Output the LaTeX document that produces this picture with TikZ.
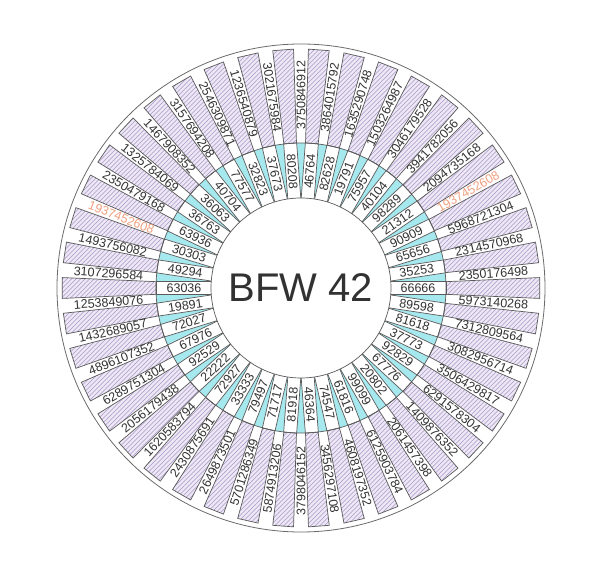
\documentclass[tikz,border=0pt]{standalone}
\usepackage{fontspec}
\setmainfont{Liberation Sans}
\usetikzlibrary{patterns}
\pgfdeclarepatternformonly{hatchne}{\pgfqpoint{-1pt}{-1pt}}{\pgfqpoint{5.5pt}{5.5pt}}{\pgfqpoint{4.5pt}{4.5pt}}{%
  \pgfsetlinewidth{0.6pt}%
  \pgfpathmoveto{\pgfqpoint{0pt}{0pt}}%
  \pgfpathlineto{\pgfqpoint{4.6pt}{4.6pt}}%
  \pgfusepath{stroke}}
\definecolor{lav}{RGB}{238,232,246}
\definecolor{hatchc}{RGB}{168,152,198}
\definecolor{cyanfill}{RGB}{165,232,238}
\definecolor{edge}{RGB}{90,90,90}
\definecolor{txt}{RGB}{50,50,50}
\definecolor{orangelab}{RGB}{240,160,128}
\tikzset{
  edgeline/.style={draw=edge, line width=0.7pt},
  hatchbox/.style={edgeline, preaction={fill=lav}, pattern=hatchne, pattern color=hatchc},
  whitebox/.style={edgeline, fill=white},
  lab/.style={inner sep=0pt, text=txt, font=\fontsize{12.5}{12.5}\selectfont},
  titletext/.style={inner sep=0pt, text=txt, font=\fontsize{40}{40}\selectfont}
}
\begin{document}
\begin{tikzpicture}[x=1pt,y=1pt]
\useasboundingbox (-301,-292) rectangle (299,288);
% outer circle
\draw[draw=edge!90, line width=0.8pt, fill=white] (0,0) circle (244);
% hatched boxes
\foreach \k in {0,...,41} {
  \pgfmathsetmacro\b{\k*360/42}
  \draw[hatchbox] ({\b-2.5}:145) -- ({\b-2.5}:239) -- ({\b+2.5}:239) -- ({\b+2.5}:145) -- cycle;
}
% cyan ring
\fill[cyanfill] (0,0) circle (145);
% white boxes of inner ring
\foreach \k in {0,...,41} {
  \pgfmathsetmacro\c{\k*360/42}
  \draw[whitebox, rotate=\c] (86,-6.5) rectangle (145,6.5);
}
\draw[edgeline, fill=white] (0,0) circle (90);
\draw[edgeline] (0,0) circle (145);
% outer labels
\foreach \lab [count=\i from 0] in {3750846912,3864015792,1635290748,1503264987,3046179528,3941782056,2094735168,1937452608,5968721304,2314570968,2350176498,5973140268,7312809564,3082956714,3506429817,6291578304,1409876352,2061457398,6125903784,4608197352,3456297108,3798046152,5874913206,5701286349,2649873501,2430875691,1620583794,2056179438,6289751304,4896107352,1432689057,1253849076,3107296584,1493756082,1937452608,2350479168,1325784069,1467908352,3157694208,2546309871,1236540879,3021675984} {
  \pgfmathsetmacro\a{90-\i*360/42}
  \pgfmathsetmacro\rot{\i<21 ? \a : \a+180}
  \ifnum\i=7 \def\col{orangelab}\else\ifnum\i=34 \def\col{orangelab}\else\def\col{txt}\fi\fi
  \node[lab, text=\col, rotate=\rot] (o\i) at (\a:193) {\lab};
}
% inner labels
\foreach \lab [count=\i from 0] in {46764,82628,19791,75957,40104,98289,21312,90909,65656,35253,66666,89598,81618,37773,92829,67776,20802,99099,61816,74547,46364,81918,71717,79497,33333,72927,22222,92529,67976,72027,19891,63036,49294,30303,63936,36763,36063,40704,77577,32823,37673,80208} {
  \pgfmathsetmacro\a{(10-\i)*360/42}
  \pgfmathsetmacro\rot{\i<21 ? \a : \a+180}
  \node[lab, rotate=\rot] (n\i) at (\a:117) {\lab};
}
\node[titletext] (title) at (0,0) {BFW 42};
\end{tikzpicture}
\end{document}
